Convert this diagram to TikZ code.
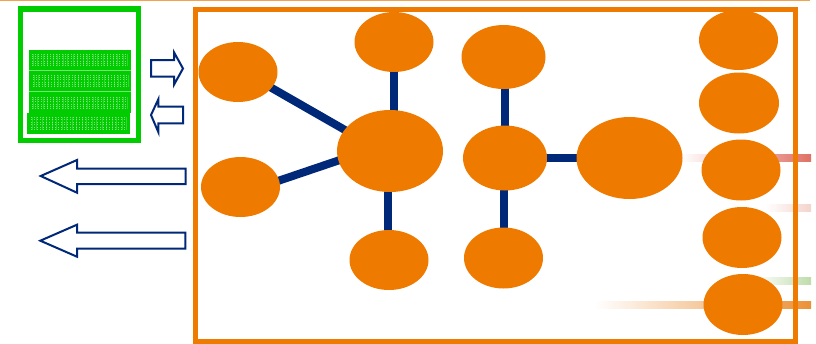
\documentclass[tikz,border=0pt]{standalone}
\usetikzlibrary{shapes.geometric,backgrounds}
\definecolor{orng}{RGB}{238,123,0}
\definecolor{navy}{RGB}{0,40,120}
\definecolor{grn}{RGB}{0,204,0}
\definecolor{stripeR}{RGB}{224,112,100}
\definecolor{stripeP}{RGB}{243,212,204}
\definecolor{stripeG}{RGB}{190,220,170}
\definecolor{stripeO}{RGB}{235,145,55}
\tikzset{
  x=0.75pt,y=-0.75pt,
  blob/.style={ellipse,fill=orng,draw=none,inner sep=0pt},
  link/.style={draw=navy,line width=6pt},
  frameO/.style={draw=orng,line width=3.75pt},
  frameG/.style={draw=grn,line width=3.9pt},
  hollow/.style={draw=navy,line width=1.5pt,fill=white,line join=miter},
  band/.style={fill=grn,draw=none},
}
\newcommand{\blobat}[5]{\node[blob,minimum width=#4*0.75pt,minimum height=#5*0.75pt] (#1) at (#2,#3) {};}
\newcommand{\dotband}[3]{%
  \foreach \yy in {0,2.2,4.4,7.2,9.4,11.6}{
    \draw[white,opacity=.5,line width=.6pt,dash pattern=on .9pt off 1.35pt] (#1,#2+\yy) -- (#3,#2+\yy);
  }
  \foreach \xx in {0,10,...,90}{
    \draw[white,opacity=.2,line width=.5pt] (#1+\xx+1,#2-.5) -- (#1+\xx+1,#2+12);
    \draw[white,opacity=.2,line width=.5pt] (#1+\xx+5,#2-.5) -- (#1+\xx+5,#2+12);
  }}
\begin{document}
\begin{tikzpicture}
\useasboundingbox (0,0) rectangle (816,343);
\fill[orng!70] (0,0) rectangle (810,1);
\shade[left color=white,right color=stripeR] (680,154.5) rectangle (811,161.5);
\shade[left color=white,right color=stripeO] (595,301) rectangle (811,308);
\shade[left color=white,right color=stripeP] (765,204.5) rectangle (811,211.5);
\shade[left color=white,right color=stripeG] (755,277.5) rectangle (811,284.5);
\draw[frameG] (20.7,9) rectangle (138.2,140.5);
\fill[grn!55!white] (28.7,49.5) rectangle (131,113);
\fill[band] (28.7,49.5) rectangle (131,70.1);
\fill[band] (28.7,70.8) rectangle (131,91);
\fill[band] (28.7,91.7) rectangle (131,113);
\fill[band] (27,113) rectangle (130,134);
\dotband{32}{54}{127}
\dotband{33}{75}{127}
\dotband{32}{97}{127}
\dotband{31}{117.5}{126}
\draw[hollow] (151,60) -- (174,60) -- (174,52.3) -- (183,68.5) -- (174,84.7) -- (174,76.7) -- (151,76.7) -- cycle;
\draw[hollow] (183,106.7) -- (158.3,106.7) -- (158.3,99.3) -- (151,115) -- (158.3,132) -- (158.3,123.3) -- (183,123.3) -- cycle;
\draw[hollow] (185.7,168.7) -- (77,168.7) -- (77,160) -- (40.7,176) -- (77,192.7) -- (77,184) -- (185.7,184) -- cycle;
\draw[hollow] (185.3,232.7) -- (77,232.7) -- (77,224.7) -- (40.3,240.7) -- (77,256.7) -- (77,248.7) -- (185.3,248.7) -- cycle;
\draw[frameO] (195,9.2) rectangle (795,341);
\blobat{a}{238}{72}{79}{60}
\blobat{b}{394}{42}{79}{60}
\blobat{c}{503.5}{57}{84}{64}
\blobat{d}{738.5}{40}{79}{60}
\blobat{e}{739}{103}{80}{61}
\blobat{f}{240.5}{187}{79}{60}
\blobat{g}{390}{151}{106}{82}
\blobat{h}{505}{158}{84}{65}
\blobat{i}{629.5}{158}{106}{82}
\blobat{j}{741}{170}{79}{61}
\blobat{k}{742}{237.5}{79}{61}
\blobat{l}{389}{260}{79}{60}
\blobat{m}{503.5}{258}{79}{61}
\blobat{n}{743}{304.5}{79}{61}
\begin{pgfonlayer}{background}
\draw[link] ([yshift=2.5pt]a.center) -- ([yshift=-3.6pt]g.center);
\draw[link] ([yshift=-5pt]f.center) -- ([yshift=6pt]g.center);
\draw[link] (b.center) -- (b.center |- g.center);
\draw[link] ([xshift=-.75pt]l.center) -- ([xshift=-.75pt]l.center |- g.center);
\draw[link] (h.center |- c.center) -- (h.center);
\draw[link] ([xshift=-.5pt]h.center) -- ([xshift=-.5pt]h.center |- m.center);
\draw[link] (h.center) -- (i.center);
\end{pgfonlayer}
\end{tikzpicture}
\end{document}
